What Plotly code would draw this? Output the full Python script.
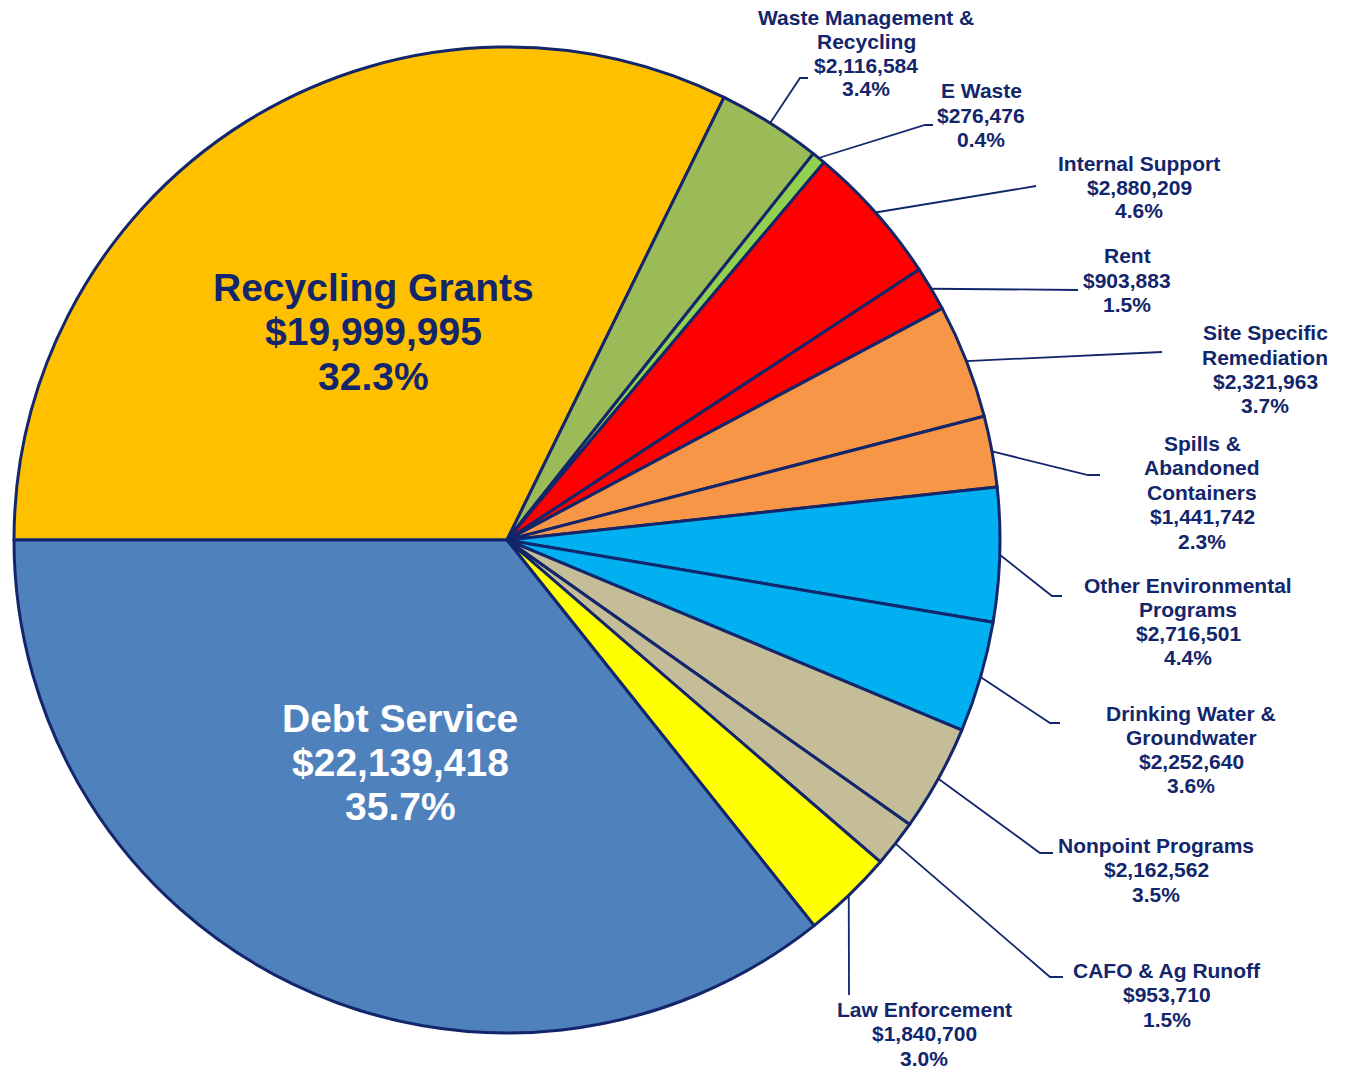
import math
import plotly.graph_objects as go

# ---- data -------------------------------------------------------------
categories = [
    "Recycling Grants", "Waste Management & Recycling", "E Waste",
    "Internal Support", "Rent", "Site Specific Remediation",
    "Spills & Abandoned Containers", "Other Environmental Programs",
    "Drinking Water & Groundwater", "Nonpoint Programs",
    "CAFO & Ag Runoff", "Law Enforcement", "Debt Service",
]
amounts = [
    19999995, 2116584, 276476, 2880209, 903883, 2321963, 1441742,
    2716501, 2252640, 2162562, 953710, 1840700, 22139418,
]
# how each category name is broken over lines in its label
name_lines = [
    ["Recycling Grants"], ["Waste Management &", "Recycling"], ["E Waste"],
    ["Internal Support"], ["Rent"], ["Site Specific", "Remediation"],
    ["Spills &", "Abandoned", "Containers"], ["Other Environmental", "Programs"],
    ["Drinking Water &", "Groundwater"], ["Nonpoint Programs"],
    ["CAFO & Ag Runoff"], ["Law Enforcement"], ["Debt Service"],
]

# ---- styling ----------------------------------------------------------
colors = [
    "#FFC000", "#9BBB59", "#92D050", "#FF0000", "#FF0000", "#F79646",
    "#F79646", "#00B0F0", "#00B0F0", "#C4BD97", "#C4BD97", "#FFFF00",
    "#4F81BD",
]
NAVY = "#13266B"
W, H = 1352, 1069
CX, CY, R = 507, 540, 493          # pie centre and radius in pixels
START = 270                        # first slice starts at 9 o'clock

# label placement (pixels): text centre x, first line middle y,
# line step, font size, text colour, leader route after the pie edge
label_layout = [
    dict(x=373, y=288, step=44, size=39, color=NAVY, route=None),
    dict(x=866, y=17, step=24, size=21, color=NAVY, route=[(800, 78), (808, 78)]),
    dict(x=981, y=91, step=24, size=21, color=NAVY, route=[(925, 125), (933, 125)]),
    dict(x=1139, y=163, step=24, size=21, color=NAVY, route=[(1036, 186)]),
    dict(x=1127, y=256, step=24, size=21, color=NAVY, route=[(1078, 290)]),
    dict(x=1265, y=333, step=24.3, size=21, color=NAVY, route=[(1162, 352)]),
    dict(x=1202, y=443, step=24.5, size=21, color=NAVY, route=[(1088, 475), (1100, 475)]),
    dict(x=1188, y=585, step=24.3, size=21, color=NAVY, route=[(1052, 596), (1062, 596)]),
    dict(x=1191, y=713, step=24.3, size=21, color=NAVY, route=[(1050, 723), (1060, 723)]),
    dict(x=1156, y=845, step=24.5, size=21, color=NAVY, route=[(1040, 853), (1053, 853)]),
    dict(x=1167, y=970, step=24.5, size=21, color=NAVY, route=[(1050, 977), (1063, 977)]),
    dict(x=924, y=1009, step=24.5, size=21, color=NAVY, route=[(849, 995)]),
    dict(x=400, y=718, step=44, size=39, color="white", route=None),
]


def px(x):
    return x / W


def py(y):
    return 1 - y / H


total = sum(amounts)

fig = go.Figure(
    go.Pie(
        labels=categories,
        values=amounts,
        sort=False,
        direction="clockwise",
        rotation=START,
        marker=dict(colors=colors, line=dict(color=NAVY, width=3)),
        textinfo="none",
        hoverinfo="label+value+percent",
        showlegend=False,
        domain=dict(x=[px(CX - R), px(CX + R)], y=[py(CY + R), py(CY - R)]),
    )
)

annotations = []
shapes = []
cum = 0.0
for name, amt, lines, lay in zip(categories, amounts, name_lines, label_layout):
    frac = amt / total
    mid = START + (cum + frac / 2) * 360      # clockwise from 12 o'clock
    cum += frac
    text_lines = lines + [f"${amt:,}", f"{frac * 100:.1f}%"]
    for i, t in enumerate(text_lines):
        annotations.append(dict(
            x=px(lay["x"]), y=py(lay["y"] + i * lay["step"]),
            xref="paper", yref="paper", xanchor="center", yanchor="middle",
            text=t, showarrow=False,
            font=dict(family="Liberation Sans, Arial, sans-serif",
                      size=lay["size"], color=lay["color"], weight="bold"),
        ))
    if lay["route"]:
        a = math.radians(mid)
        ex, ey = CX + R * math.sin(a), CY - R * math.cos(a)
        pts = [(ex, ey)] + lay["route"]
        path = "M " + " L ".join(f"{px(x):.5f} {py(y):.5f}" for x, y in pts)
        shapes.append(dict(type="path", path=path, xref="paper", yref="paper",
                           line=dict(color=NAVY, width=1.8)))

fig.update_layout(
    width=W, height=H,
    margin=dict(l=0, r=0, t=0, b=0),
    paper_bgcolor="white", plot_bgcolor="white",
    annotations=annotations, shapes=shapes,
)

fig.write_html("out.html")
